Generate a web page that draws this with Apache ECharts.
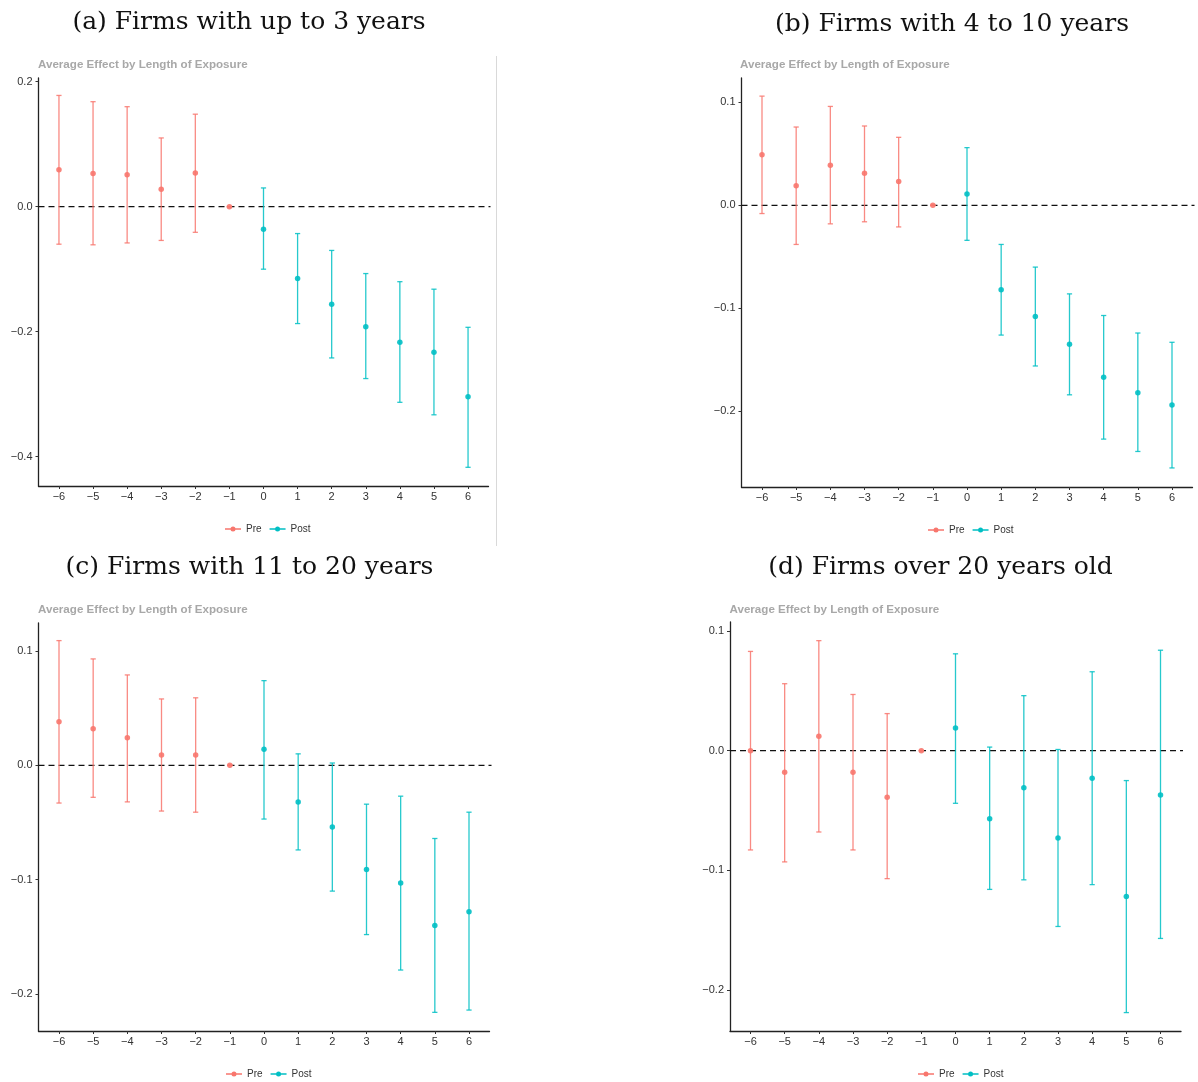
<!DOCTYPE html>
<html><head><meta charset="utf-8">
<script src="https://cdn.jsdelivr.net/npm/echarts@6/dist/echarts.min.js"></script>
<style>html,body{margin:0;padding:0;background:#fff}#c{width:1198px;height:1082px}</style>
</head><body><div id="c"></div>
<script>
// ---- data ----
const periods = [-6, -5, -4, -3, -2, -1, 0, 1, 2, 3, 4, 5, 6];
const groupNames = ['Pre', 'Post'];

const estA  = [0.059, 0.053, 0.051, 0.028, 0.054, 0, -0.036, -0.115, -0.156, -0.192, -0.217, -0.233, -0.304];
const lowA  = [-0.060, -0.061, -0.058, -0.054, -0.041, 0, -0.100, -0.187, -0.242, -0.275, -0.313, -0.333, -0.417];
const highA = [0.178, 0.168, 0.160, 0.110, 0.148, 0, 0.030, -0.043, -0.070, -0.107, -0.120, -0.132, -0.193];

const estB  = [0.049, 0.019, 0.039, 0.031, 0.023, 0, 0.011, -0.082, -0.108, -0.135, -0.167, -0.182, -0.194];
const lowB  = [-0.008, -0.038, -0.018, -0.016, -0.021, 0, -0.034, -0.126, -0.156, -0.184, -0.227, -0.239, -0.255];
const highB = [0.106, 0.076, 0.096, 0.077, 0.066, 0, 0.056, -0.038, -0.060, -0.086, -0.107, -0.124, -0.133];

const estC  = [0.038, 0.032, 0.024, 0.009, 0.009, 0, 0.014, -0.032, -0.054, -0.091, -0.103, -0.140, -0.128];
const lowC  = [-0.033, -0.028, -0.032, -0.040, -0.041, 0, -0.047, -0.074, -0.110, -0.148, -0.179, -0.216, -0.214];
const highC = [0.109, 0.093, 0.079, 0.058, 0.059, 0, 0.074, 0.010, 0.002, -0.034, -0.027, -0.064, -0.041];

const estD  = [0.000, -0.018, 0.012, -0.018, -0.039, 0, 0.019, -0.057, -0.031, -0.073, -0.023, -0.122, -0.037];
const lowD  = [-0.083, -0.093, -0.068, -0.083, -0.107, 0, -0.044, -0.116, -0.108, -0.147, -0.112, -0.219, -0.157];
const highD = [0.083, 0.056, 0.092, 0.047, 0.031, 0, 0.081, 0.003, 0.046, 0.001, 0.066, -0.025, 0.084];

const yTicksA = [-0.4, -0.2, 0.0, 0.2];
const yTicksB = [-0.2, -0.1, 0.0, 0.1];
const yTicksC = [-0.2, -0.1, 0.0, 0.1];
const yTicksD = [-0.2, -0.1, 0.0, 0.1];

const panelTitles = [
  '(a) Firms with up to 3 years',
  '(b) Firms with 4 to 10 years',
  '(c) Firms with 11 to 20 years',
  '(d) Firms over 20 years old'
];
const subtitle = 'Average Effect by Length of Exposure';

// ---- layout / style ----
const colors = ['#F8766D', '#00BFC4'];
const sans = '"Liberation Sans", Arial, sans-serif';
const serif = '"DejaVu Serif", serif';

const panels = [
  {est: estA, low: lowA, high: highA, yTicks: yTicksA, yMin: -0.4469, yMax: 0.2059,
   grid: {left: 38.5, top: 78, width: 450, height: 408}, title: [249, 22.5], sub: [38, 65], legend: [225, 524]},
  {est: estB, low: lowB, high: highB, yTicks: yTicksB, yMin: -0.2735, yMax: 0.1236,
   grid: {left: 741.5, top: 78, width: 451, height: 409}, title: [952, 24.5], sub: [740, 65], legend: [928, 525]},
  {est: estC, low: lowC, high: highC, yTicks: yTicksC, yMin: -0.2323, yMax: 0.1244,
   grid: {left: 38.5, top: 623, width: 451, height: 408}, title: [249.5, 567.5], sub: [38, 610], legend: [226, 1069]},
  {est: estD, low: lowD, high: highD, yTicks: yTicksD, yMin: -0.2344, yMax: 0.1076,
   grid: {left: 730, top: 622, width: 451, height: 409}, title: [940.5, 567.5], sub: [729.5, 610], legend: [918, 1069]}
];

function fmtSigned(v, d) {
  const s = d == null ? String(Math.abs(v)) : Math.abs(v).toFixed(d);
  return (v < -1e-9 ? '\u2212' : '') + s;
}

const grids = [], xAxes = [], yAxes = [], series = [], legends = [], graphics = [];

panels.forEach((p, pi) => {
  grids.push(Object.assign({containLabel: false, outerBoundsMode: 'none'}, p.grid));
  xAxes.push({
    type: 'value', gridIndex: pi, min: -6.6, max: 6.6,
    axisLine: {show: true, onZero: false, lineStyle: {color: '#222', width: 1.3}},
    axisTick: {show: true, customValues: periods, length: 3, lineStyle: {color: '#333', width: 1}},
    axisLabel: {customValues: periods, formatter: v => fmtSigned(v), fontSize: 11, color: '#333', margin: 5, fontFamily: sans},
    splitLine: {show: false}
  });
  yAxes.push({
    type: 'value', gridIndex: pi, min: p.yMin, max: p.yMax,
    axisLine: {show: true, onZero: false, lineStyle: {color: '#222', width: 1.3}},
    axisTick: {show: true, customValues: p.yTicks, length: 3, lineStyle: {color: '#333', width: 1}},
    axisLabel: {customValues: p.yTicks, formatter: v => fmtSigned(v, 1), fontSize: 11, color: '#333', margin: 6, fontFamily: sans},
    splitLine: {show: false}
  });

  // zero reference line
  series.push({
    type: 'custom', xAxisIndex: pi, yAxisIndex: pi, data: [[0, 0]], silent: true, z: 1,
    renderItem: (params, api) => {
      const cs = params.coordSys;
      const y = api.coord([0, 0])[1];
      return {type: 'line', shape: {x1: cs.x, y1: y, x2: cs.x + cs.width + 2, y2: y},
        style: {stroke: '#111', lineWidth: 1.3, lineDash: [6, 4]}};
    }
  });

  groupNames.forEach((g, gi) => {
    const color = colors[gi];
    const bars = [], pts = [];
    periods.forEach((t, i) => {
      if ((gi === 0) === (t < 0)) {
        bars.push([t, p.low[i], p.high[i]]);
        pts.push([t, p.est[i]]);
      }
    });
    series.push({
      type: 'custom', name: g, xAxisIndex: pi, yAxisIndex: pi, data: bars, z: 2,
      itemStyle: {color: color}, encode: {x: 0, y: [1, 2]},
      renderItem: (params, api) => {
        const x = api.value(0);
        const a = api.coord([x, api.value(1)]);
        const b = api.coord([x, api.value(2)]);
        const h = 2.6;
        const st = {stroke: color, lineWidth: 1.3, opacity: 0.85};
        return {type: 'group', children: [
          {type: 'line', shape: {x1: a[0], y1: a[1], x2: b[0], y2: b[1]}, style: st},
          {type: 'line', shape: {x1: a[0] - h, y1: a[1], x2: a[0] + h, y2: a[1]}, style: st},
          {type: 'line', shape: {x1: b[0] - h, y1: b[1], x2: b[0] + h, y2: b[1]}, style: st}
        ]};
      }
    });
    series.push({
      type: 'scatter', name: g, xAxisIndex: pi, yAxisIndex: pi, data: pts, z: 3,
      symbol: 'circle', symbolSize: 5.5, itemStyle: {color: color, opacity: 0.9}
    });
  });

  legends.push({
    data: groupNames, left: p.legend[0], top: p.legend[1], orient: 'horizontal', padding: 0,
    itemWidth: 16, itemHeight: 5, itemGap: 8,
    icon: 'path://M0,1.8 H16 V3.2 H0 Z M5.5,2.5 A2.5,2.5 0 1 1 10.5,2.5 A2.5,2.5 0 1 1 5.5,2.5 Z',
    textStyle: {fontSize: 10, color: '#333', fontFamily: sans}, selectedMode: false
  });

  graphics.push({
    type: 'text', x: p.title[0], y: p.title[1], silent: true,
    style: {text: panelTitles[pi], font: '25px ' + serif, fill: '#111', align: 'center', verticalAlign: 'middle'}
  });
  graphics.push({
    type: 'text', x: p.sub[0], y: p.sub[1], silent: true,
    style: {text: subtitle, font: 'bold 11.6px ' + sans, fill: '#a8a8a8', align: 'left', verticalAlign: 'middle'}
  });
});

graphics.push({type: 'line', silent: true, shape: {x1: 496.5, y1: 56, x2: 496.5, y2: 546},
  style: {stroke: '#d9d9d9', lineWidth: 1}});

const chart = echarts.init(document.getElementById('c'), null, {renderer: 'canvas'});
chart.setOption({
  backgroundColor: '#fff',
  animation: false,
  grid: grids, xAxis: xAxes, yAxis: yAxes, series: series, legend: legends, graphic: graphics
});
</script></body></html>
